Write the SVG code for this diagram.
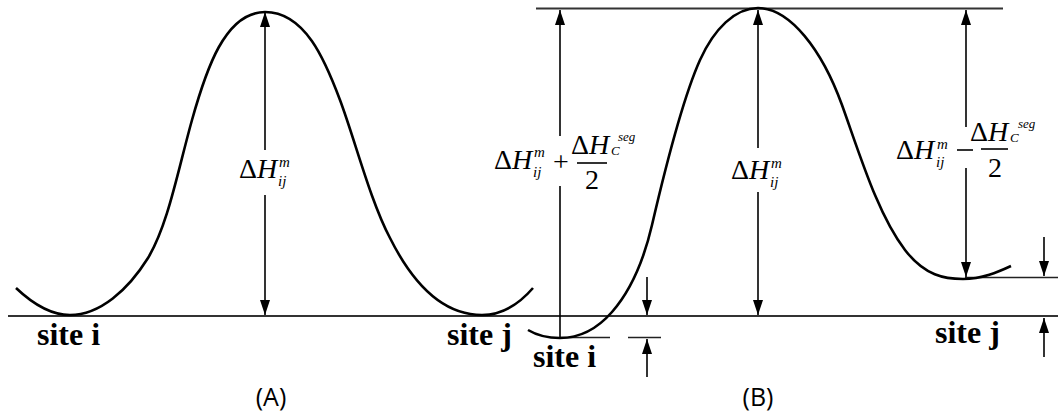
<svg xmlns="http://www.w3.org/2000/svg" width="1058" height="414" viewBox="0 0 1058 414">
<style>
.curve{fill:none;stroke:#000;stroke-width:2.6}
.base{fill:none;stroke:#333;stroke-width:2}
.tick{fill:none;stroke:#222;stroke-width:1.6}
.arr{fill:none;stroke:#000;stroke-width:1.6}
.m{font-family:"Liberation Serif","Times New Roman",serif;fill:#000}
.big{font-size:28px}
.sm{font-size:15px;font-style:italic}
.xs{font-size:13px;font-style:italic}
.it{font-style:italic}
.site{font-family:"Liberation Serif","Times New Roman",serif;font-weight:bold;font-size:32px;fill:#000}
.cap{font-family:"Open Sans","Noto Sans",sans-serif;font-size:25px;fill:#000;text-anchor:middle}
</style>
<defs>
<marker id="ah" viewBox="0 0 15 10" refX="15" refY="5" markerWidth="15" markerHeight="10" markerUnits="userSpaceOnUse" orient="auto-start-reverse">
<path d="M0,0 L15,5 L0,10 z" fill="#000"/>
</marker>
</defs>
<rect width="1058" height="414" fill="#fff"/>

<g id="axes">
<line class="base" x1="8" y1="316" x2="1058" y2="316"/>
<line class="base" x1="536" y1="8.5" x2="1003" y2="8.5"/>
<line class="tick" x1="560" y1="337.5" x2="610" y2="337.5"/>
<line class="tick" x1="628" y1="337.5" x2="661" y2="337.5"/>
<line class="tick" x1="965" y1="277.5" x2="1058" y2="277.5"/>
</g>

<g id="curveA">
<path class="curve" d="M16,288 C35,306 52,315 70,315 C100,315 128,290 148,258 C168,225 178,170 192,120 C206,70 225,12 265,12 C305,12 325,60 340,100 C355,140 370,200 390,238 C410,278 440,315 482,315 C502,315 520,303 533,288"/>
</g>

<g id="curveB">
<path class="curve" d="M528,330 C538,336 548,338 560,338 C580,338 598,328 612,312 C626,296 642,268 652,225 C662,182 682,100 700,60 C714,29 735,8 758,8 C790,8 822,50 842,105 C860,155 878,215 905,250 C925,276 945,279 963,279 C982,279 998,272 1011,266"/>
</g>

<g id="connectors">
<line class="arr" x1="265" y1="150" x2="265" y2="12" marker-end="url(#ah)"/>
<line class="arr" x1="265" y1="195" x2="265" y2="315" marker-end="url(#ah)"/>
<line class="arr" x1="560" y1="136" x2="560" y2="10" marker-end="url(#ah)"/>
<line class="arr" x1="560" y1="186" x2="560" y2="338"/>
<line class="arr" x1="758" y1="148" x2="758" y2="10" marker-end="url(#ah)"/>
<line class="arr" x1="758" y1="192" x2="758" y2="315" marker-end="url(#ah)"/>
<line class="arr" x1="966" y1="127" x2="966" y2="10" marker-end="url(#ah)"/>
<line class="arr" x1="966" y1="168" x2="966" y2="277" marker-end="url(#ah)"/>
<line class="arr" x1="647" y1="277" x2="647" y2="315" marker-end="url(#ah)"/>
<line class="arr" x1="647" y1="377" x2="647" y2="339" marker-end="url(#ah)"/>
<line class="arr" x1="1044" y1="237" x2="1044" y2="276" marker-end="url(#ah)"/>
<line class="arr" x1="1044" y1="357" x2="1044" y2="318" marker-end="url(#ah)"/>
</g>

<g id="labelA">
<text class="m big" x="239" y="178">Δ<tspan class="it">H</tspan></text>
<text class="m sm" x="279" y="167">m</text>
<text class="m sm" x="278" y="186">ij</text>
</g>

<g id="labelBleft">
<text class="m big" x="494" y="169">Δ<tspan class="it">H</tspan></text>
<text class="m sm" x="534" y="157">m</text>
<text class="m sm" x="533" y="177">ij</text>
<text class="m big" x="561" y="171" text-anchor="middle">+</text>
<text class="m big" x="571" y="154">Δ<tspan class="it">H</tspan></text>
<text class="m xs" x="611" y="155">C</text>
<text class="m xs" x="618" y="141">seg</text>
<line x1="577" y1="163" x2="607" y2="163" stroke="#000" stroke-width="1.6"/>
<text class="m big" x="592" y="189" text-anchor="middle">2</text>
</g>

<g id="labelBmid">
<text class="m big" x="731" y="179">Δ<tspan class="it">H</tspan></text>
<text class="m sm" x="771" y="168">m</text>
<text class="m sm" x="770" y="187">ij</text>
</g>

<g id="labelBright">
<text class="m big" x="896" y="159">Δ<tspan class="it">H</tspan></text>
<text class="m sm" x="937" y="149">m</text>
<text class="m sm" x="936" y="167">ij</text>
<line x1="957" y1="150" x2="973" y2="150" stroke="#000" stroke-width="1.6"/>
<text class="m big" x="970" y="141">Δ<tspan class="it">H</tspan></text>
<text class="m xs" x="1010" y="142">C</text>
<text class="m xs" x="1018" y="128">seg</text>
<line x1="981" y1="149" x2="1008" y2="149" stroke="#000" stroke-width="1.6"/>
<text class="m big" x="995" y="177" text-anchor="middle">2</text>
</g>

<g id="siteLabels">
<text class="site" x="37" y="345">site i</text>
<text class="site" x="447" y="345">site j</text>
<text class="site" x="533" y="367">site i</text>
<text class="site" x="935" y="343">site j</text>
</g>

<g id="captions">
<text class="cap" x="271" y="406">(A)</text>
<text class="cap" x="758" y="406">(B)</text>
</g>
</svg>
